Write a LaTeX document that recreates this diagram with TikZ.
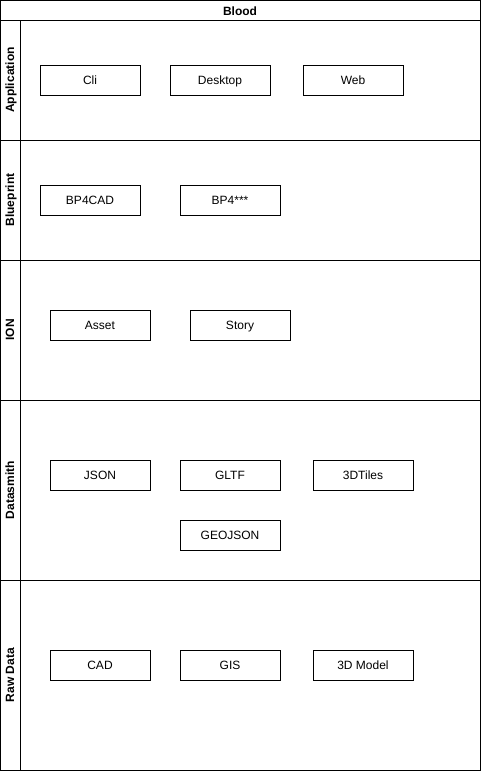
\documentclass[tikz,border=0pt]{standalone}
\usepackage{fontspec}
\setmainfont{Liberation Sans}
\begin{document}
\begin{tikzpicture}
[x=1pt,y=-1pt,line width=1pt,
 box/.style = {draw, minimum width=100pt, minimum height=30pt, inner sep=0pt, text height=9.6pt, text depth=1.6pt, font=\fontsize{12}{14}\selectfont},
 lane/.style = {rotate=90, inner sep=0pt, text height=9.6pt, text depth=1.6pt, font=\bfseries\fontsize{12}{14}\selectfont},]
\useasboundingbox (0,0) rectangle (481,771);
% frame
\draw (0.5,0.5) rectangle (480.5,770.5);
\draw (0.5,20) -- (480.5,20);
\draw (20,20) -- (20,770.5);
\draw (0.5,140) -- (480.5,140);
\draw (0.5,260) -- (480.5,260);
\draw (0.5,400) -- (480.5,400);
\draw (0.5,580) -- (480.5,580);
\node (title) at (240,11) [font=\bfseries\fontsize{12}{14}\selectfont, text height=9.6pt, text depth=1.6pt, inner sep=0pt] {Blood};
% lane labels
\node (app) at (10,80) [lane] {Application};
\node (bp) at (10,200) [lane] {Blueprint};
\node (ion) at (10,330) [lane] {ION};
\node (ds) at (10,490) [lane] {Datasmith};
\node (raw) at (10,675) [lane] {Raw Data};
% boxes
\node (cli) at (90,80) [box] {Cli};
\node (desktop) at (220,80) [box] {Desktop};
\node (web) at (353,80) [box] {Web};
\node (bp4cad) at (90,200) [box] {BP4CAD};
\node (bp4x) at (230,200) [box] {BP4***};
\node (asset) at (100,325) [box] {Asset};
\node (story) at (240,325) [box] {Story};
\node (json) at (100,475) [box] {JSON};
\node (gltf) at (230,475) [box] {GLTF};
\node (tiles) at (363,475) [box] {3DTiles};
\node (geojson) at (230,535) [box] {GEOJSON};
\node (cad) at (100,665) [box] {CAD};
\node (gis) at (230,665) [box] {GIS};
\node (model) at (363,665) [box] {3D Model};

\end{tikzpicture}
\end{document}
